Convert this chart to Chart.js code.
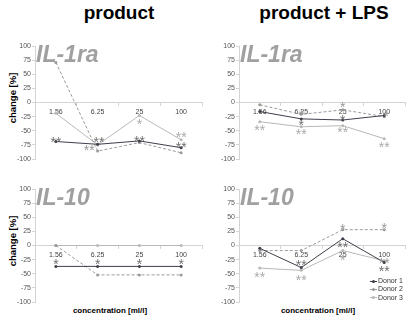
<!DOCTYPE html>
<html>
<head>
<meta charset="utf-8">
<script src="https://cdn.jsdelivr.net/npm/chart.js@4"></script>
<style>
  body { margin: 0; width: 409px; height: 318px; background: #fff; position: relative; overflow: hidden;
         font-family: "Liberation Sans", Arial, sans-serif; }
  canvas { position: absolute; }
  .title { position: absolute; font-weight: bold; font-size: 19px; line-height: 19px; color: #000;
           transform: translateX(-50%); white-space: nowrap; }
  .xtitle { position: absolute; font-weight: bold; font-size: 8px; line-height: 8px; color: #000;
            transform: translateX(-50%); white-space: nowrap; }
  .ytitle { position: absolute; font-weight: bold; font-size: 9.5px; line-height: 10px; color: #000;
            transform: translate(-50%, -50%) rotate(-90deg); white-space: nowrap; }
  #legend { position: absolute; left: 370px; top: 277px; font-size: 7px; line-height: 8.3px; color: #333; }
  #legend div { white-space: nowrap; }
  #legend .swatch { display: inline-block; position: relative; width: 7px; height: 1px; vertical-align: middle; margin-right: 1px; }
  #legend .dot { position: absolute; left: 2px; top: -1px; width: 3px; height: 3px; border-radius: 50%; }
</style>
</head>
<body>
<div class="title" style="left:119px; top:3px;">product</div>
<div class="title" style="left:324px; top:3px;">product + LPS</div>
<div class="ytitle" style="left:13px; top:98px;">change [%]</div>
<div class="ytitle" style="left:13px; top:241px;">change [%]</div>
<div class="xtitle" style="left:110px; top:307px;">concentration [ml/l]</div>
<div class="xtitle" style="left:318px; top:307px;">concentration [ml/l]</div>

<canvas id="il1raProduct" width="192" height="130" style="left:14px; top:36px;"></canvas>
<canvas id="il1raLps" width="191" height="130" style="left:218px; top:36px;"></canvas>
<canvas id="il10Product" width="192" height="130" style="left:14px; top:179px;"></canvas>
<canvas id="il10Lps" width="191" height="130" style="left:218px; top:179px;"></canvas>
<div id="legend"></div>

<script>
const concentrations = ["1.56", "6.25", "25", "100"];
const donorNames = ["Donor 1", "Donor 2", "Donor 3"];

// IL-1ra, product
const il1raProductD1 = [-69, -74, -68, -80];
const il1raProductD2 = [71, -86, -71, -89];
const il1raProductD3 = [-19, -75, -23, -66];
// IL-1ra, product + LPS
const il1raLpsD1 = [-16, -29, -31, -23];
const il1raLpsD2 = [-4, -21, -13, -25];
const il1raLpsD3 = [-34, -43, -41, -64];
// IL-10, product
const il10ProductD1 = [-37, -37, -37, -37];
const il10ProductD2 = [0, -52, -52, -52];
const il10ProductD3 = [0, 0, 0, 0];
// IL-10, product + LPS
const il10LpsD1 = [-5, -39, 12, -30];
const il10LpsD2 = [-9, -9, 28, 28];
const il10LpsD3 = [-40, -44, -9, -27];

// significance marks: [category index, value, mark, donor]
const il1raProductStars = [
  [0, -64, "**", 0], [1.03, -65, "**", 0], [0.8, -78, "**", 1],
  [2, -62, "**", 0], [2, -32, "*", 2], [3, -56, "**", 2], [3, -73, "**", 0],
];
const il1raLpsStars = [
  [0, -43, "**", 2], [1, -16, "*", 1], [1, -35, "*", 0], [1, -51, "**", 2],
  [2, -2, "*", 1], [2, -26, "*", 0], [2, -47, "**", 2], [3.05, -19, "*", 1], [3, -73, "**", 2],
];
const il10ProductStars = [
  [0, -28, "*", 0], [1, -28, "*", 0], [2, -28, "*", 0], [3, -28, "*", 0],
];
const il10LpsStars = [
  [0, -50, "**", 2], [1, -30, "**", 0], [1, -55, "**", 2],
  [2, 34, "*", 1], [2, 3, "**", 0], [2, -21, "*", 2],
  [3, 37, "*", 1], [3, -25, "**", 1], [3, -39, "**", 0],
];

const donorColors = ["#3d3f4a", "#9a9a9a", "#b8b8b8"];
const donorDash = [[], [3, 2], []];
const starColors = ["#707070", "#999999", "#aaaaaa"];
const fontFamily = "'Liberation Sans', Arial, sans-serif";

const panelLabel = {
  id: "panelLabel",
  beforeDatasetsDraw(chart, args, opts) {
    const { ctx, chartArea } = chart;
    ctx.save();
    ctx.font = "italic bold 23px " + fontFamily;
    ctx.fillStyle = "#a0a0a0";
    ctx.textBaseline = "alphabetic";
    ctx.fillText(opts.text, chartArea.left + 1, chartArea.top + 16);
    ctx.restore();
  },
};

const starMarks = {
  id: "starMarks",
  afterDatasetsDraw(chart, args, opts) {
    const { ctx } = chart;
    const xs = chart.scales.x, ys = chart.scales.y;
    ctx.save();
    ctx.font = "14px " + fontFamily;
    ctx.textAlign = "center";
    ctx.textBaseline = "alphabetic";
    opts.marks.forEach(([i, v, mark, d]) => {
      ctx.fillStyle = starColors[d];
      ctx.fillText(mark, xs.getPixelForValue(i), ys.getPixelForValue(v) + 8);
    });
    ctx.restore();
  },
};

function makePanel(id, label, series, stars, rightPad) {
  const ctx = document.getElementById(id).getContext("2d");
  return new Chart(ctx, {
    type: "line",
    data: {
      labels: concentrations,
      datasets: series.map((values, i) => ({
        label: donorNames[i],
        data: values,
        borderColor: donorColors[i],
        backgroundColor: donorColors[i],
        borderDash: donorDash[i],
        borderWidth: 1,
        pointRadius: 1.5,
        pointBorderWidth: 0,
        tension: 0,
      })),
    },
    options: {
      responsive: false,
      animation: false,
      layout: { padding: { left: 0, top: 10, right: rightPad, bottom: 7 } },
      plugins: {
        legend: { display: false },
        tooltip: { enabled: false },
        panelLabel: { text: label },
        starMarks: { marks: stars },
      },
      scales: {
        x: {
          position: { y: 0 },
          offset: true,
          grid: { offset: true, drawOnChartArea: false, tickLength: 3, color: "#d4d4d4" },
          border: { color: "#d4d4d4" },
          ticks: { font: { size: 7, family: fontFamily }, color: "#444", padding: 2, maxRotation: 0, autoSkip: false },
        },
        y: {
          min: -100,
          max: 100,
          ticks: { stepSize: 25, font: { size: 7, family: fontFamily }, color: "#555", padding: 1 },
          grid: { drawOnChartArea: false, tickLength: 3, color: "#d4d4d4" },
          border: { color: "#d4d4d4" },
          afterFit(scale) { scale.width = 21; },
        },
      },
    },
    plugins: [panelLabel, starMarks],
  });
}

makePanel("il1raProduct", "IL-1ra", [il1raProductD1, il1raProductD2, il1raProductD3], il1raProductStars, 4);
makePanel("il1raLps", "IL-1ra", [il1raLpsD1, il1raLpsD2, il1raLpsD3], il1raLpsStars, 3);
makePanel("il10Product", "IL-10", [il10ProductD1, il10ProductD2, il10ProductD3], il10ProductStars, 4);
makePanel("il10Lps", "IL-10", [il10LpsD1, il10LpsD2, il10LpsD3], il10LpsStars, 3);

// legend
const legend = document.getElementById("legend");
donorNames.forEach((name, i) => {
  const row = document.createElement("div");
  const sw = document.createElement("span");
  sw.className = "swatch";
  sw.style.background = donorColors[i];
  const dot = document.createElement("span");
  dot.className = "dot";
  dot.style.background = donorColors[i];
  sw.appendChild(dot);
  row.appendChild(sw);
  row.appendChild(document.createTextNode(name));
  legend.appendChild(row);
});
</script>
</body>
</html>
